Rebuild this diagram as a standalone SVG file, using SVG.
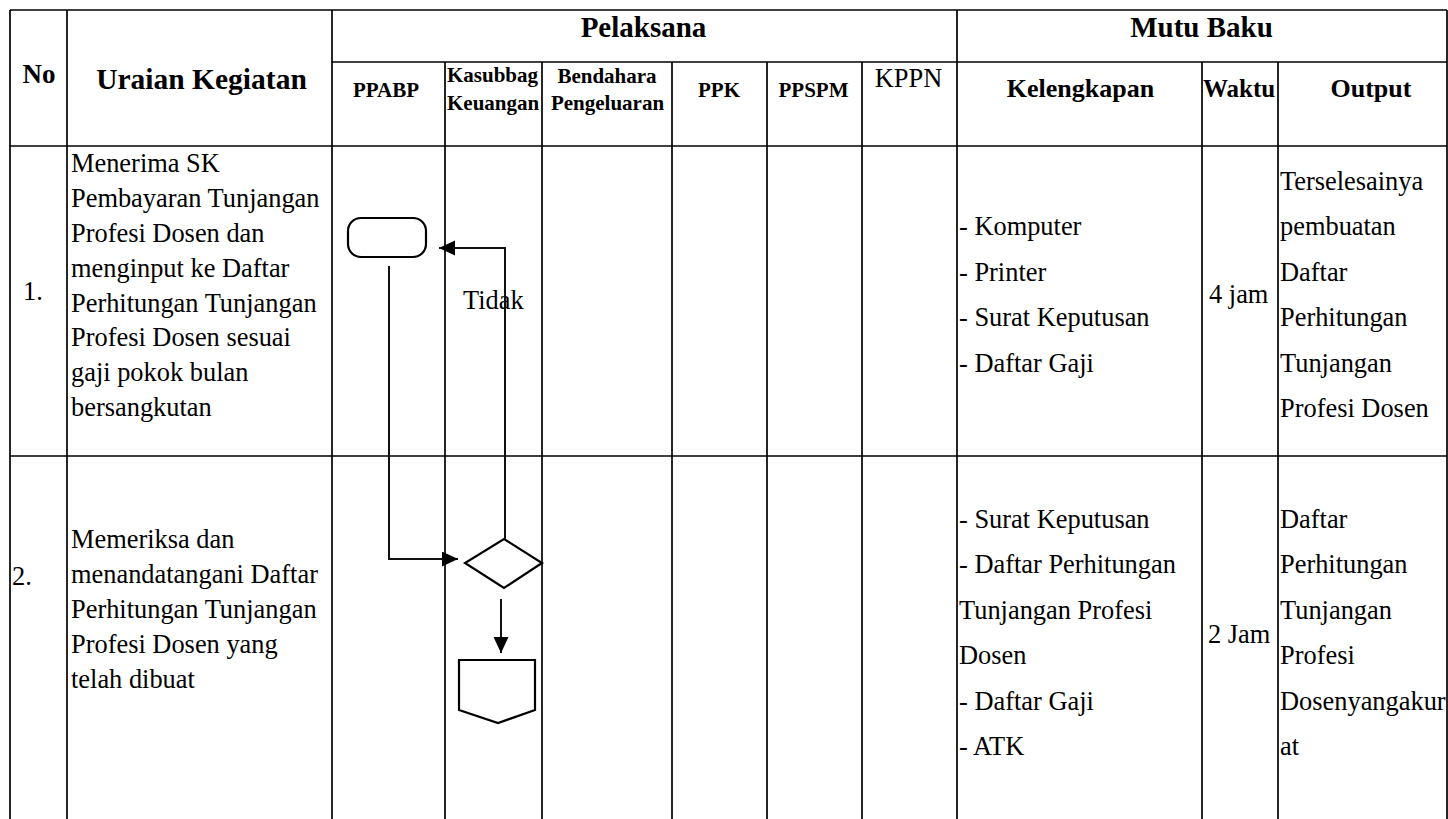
<svg xmlns="http://www.w3.org/2000/svg" width="1448" height="819" viewBox="0 0 1448 819">
<style>
.grid line{stroke:#000;stroke-width:1.7}
text{font-family:"Liberation Serif","Times New Roman",serif;fill:#000}
.h1{font-size:29px;font-weight:bold;text-anchor:middle}
.h2{font-size:26px;font-weight:bold}
.h3{font-size:21px;font-weight:bold}
.b{font-size:26.4px}
.shape{fill:#fff;stroke:#000;stroke-width:2.2}
.conn{fill:none;stroke:#111;stroke-width:2}
</style>
<defs>
<marker id="arr" markerUnits="userSpaceOnUse" markerWidth="17" markerHeight="16" refX="16" refY="7.5" orient="auto">
<path d="M0,0 L16,7.5 L0,15 z" fill="#000"/>
</marker>
</defs>
<rect width="1448" height="819" fill="#fff"/>
<g id="table" class="grid">
<line x1="10" y1="10" x2="1447" y2="10"/>
<line x1="332" y1="62" x2="1447" y2="62"/>
<line x1="10" y1="146" x2="1447" y2="146"/>
<line x1="10" y1="456" x2="1447" y2="456"/>
<line x1="10" y1="10" x2="10" y2="819"/>
<line x1="67" y1="10" x2="67" y2="819"/>
<line x1="332" y1="10" x2="332" y2="819"/>
<line x1="445" y1="62" x2="445" y2="819"/>
<line x1="542" y1="62" x2="542" y2="819"/>
<line x1="672" y1="62" x2="672" y2="819"/>
<line x1="767" y1="62" x2="767" y2="819"/>
<line x1="862" y1="62" x2="862" y2="819"/>
<line x1="957" y1="10" x2="957" y2="819"/>
<line x1="1202" y1="62" x2="1202" y2="819"/>
<line x1="1278" y1="62" x2="1278" y2="819"/>
<line x1="1447" y1="10" x2="1447" y2="819"/>
</g>
<g id="header">
<text class="h2" x="39" y="83" text-anchor="middle" style="font-size:27px">No</text>
<text class="h2" x="201.5" y="89" text-anchor="middle" style="font-size:29.5px">Uraian Kegiatan</text>
<text class="h1" x="643.5" y="37">Pelaksana</text>
<text class="h1" x="1201.5" y="37">Mutu Baku</text>
<text class="h3" x="386" y="97" text-anchor="middle">PPABP</text>
<text class="h3" x="447" y="82">Kasubbag</text>
<text class="h3" x="447" y="110">Keuangan</text>
<text class="h3" x="607" y="83" text-anchor="middle">Bendahara</text>
<text class="h3" x="607.5" y="110" text-anchor="middle">Pengeluaran</text>
<text class="h3" x="719" y="97" text-anchor="middle">PPK</text>
<text class="h3" x="813.5" y="97" text-anchor="middle">PPSPM</text>
<text class="b" x="908.5" y="87" text-anchor="middle">KPPN</text>
<text class="h2" x="1080.5" y="97" text-anchor="middle">Kelengkapan</text>
<text class="h2" x="1203" y="97" style="font-size:25px">Waktu</text>
<text class="h2" x="1371" y="97" text-anchor="middle">Output</text>
</g>
<g id="row1">
<text class="b" x="23" y="300">1.</text>
<text class="b" x="71" y="172">Menerima SK</text>
<text class="b" x="71" y="207">Pembayaran Tunjangan</text>
<text class="b" x="71" y="242">Profesi Dosen dan</text>
<text class="b" x="71" y="277">menginput ke Daftar</text>
<text class="b" x="71" y="312">Perhitungan Tunjangan</text>
<text class="b" x="71" y="346">Profesi Dosen sesuai</text>
<text class="b" x="71" y="381">gaji pokok bulan</text>
<text class="b" x="71" y="416">bersangkutan</text>
<text class="b" x="959" y="235">- Komputer</text>
<text class="b" x="959" y="281">- Printer</text>
<text class="b" x="959" y="326">- Surat Keputusan</text>
<text class="b" x="959" y="372">- Daftar Gaji</text>
<text class="b" x="1209" y="303">4 jam</text>
<text class="b" x="1280" y="190">Terselesainya</text>
<text class="b" x="1280" y="235">pembuatan</text>
<text class="b" x="1280" y="281">Daftar</text>
<text class="b" x="1280" y="326">Perhitungan</text>
<text class="b" x="1280" y="372">Tunjangan</text>
<text class="b" x="1280" y="417">Profesi Dosen</text>
</g>
<g id="row2">
<text class="b" x="12" y="585">2.</text>
<text class="b" x="71" y="548">Memeriksa dan</text>
<text class="b" x="71" y="583">menandatangani Daftar</text>
<text class="b" x="71" y="618">Perhitungan Tunjangan</text>
<text class="b" x="71" y="653">Profesi Dosen yang</text>
<text class="b" x="71" y="688">telah dibuat</text>
<text class="b" x="959" y="528">- Surat Keputusan</text>
<text class="b" x="959" y="573">- Daftar Perhitungan</text>
<text class="b" x="959" y="619">Tunjangan Profesi</text>
<text class="b" x="959" y="664">Dosen</text>
<text class="b" x="959" y="710">- Daftar Gaji</text>
<text class="b" x="959" y="755">- ATK</text>
<text class="b" x="1208" y="643">2 Jam</text>
<text class="b" x="1280" y="528">Daftar</text>
<text class="b" x="1280" y="573">Perhitungan</text>
<text class="b" x="1280" y="619">Tunjangan</text>
<text class="b" x="1280" y="664">Profesi</text>
<text class="b" x="1280" y="710">Dosenyangakur</text>
<text class="b" x="1280" y="755">at</text>
</g>
<g id="node-start">
<rect class="shape" x="348" y="218" width="78" height="39" rx="13" ry="13"/>
</g>
<g id="node-decision">
<polygon class="shape" points="504,539 542,563 504,588 465,563"/>
</g>
<g id="node-offpage">
<polygon class="shape" points="459,660 535,660 535,710 498,723 459,710"/>
</g>
<g id="label-tidak">
<text class="b" x="463" y="309">Tidak</text>
</g>
<g id="connectors">
<path class="conn" d="M389,266 V559 H458" marker-end="url(#arr)"/>
<path class="conn" d="M505,539 V248 H439" marker-end="url(#arr)"/>
<path class="conn" d="M501,599 V653" marker-end="url(#arr)"/>
</g>
</svg>
